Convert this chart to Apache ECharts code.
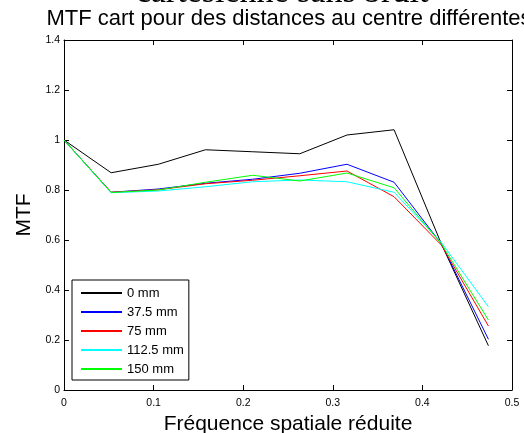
<!DOCTYPE html>
<html>
<head>
<meta charset="utf-8">
<script src="https://cdn.jsdelivr.net/npm/echarts@6/dist/echarts.min.js"></script>
<style>
  html, body { margin: 0; padding: 0; background: #fff; }
  #chart { width: 524px; height: 433px; }
</style>
</head>
<body>
<div id="chart"></div>
<script>
// Reduced spatial frequency samples
const freq = [0, 0.0526, 0.1053, 0.1579, 0.2105, 0.2632, 0.3158, 0.3684, 0.4211, 0.4737];

// MTF per distance to the centre
const mtf0   = [1.0, 0.869, 0.903, 0.961, 0.953, 0.945, 1.020, 1.041, 0.585, 0.177];
const mtf375 = [1.0, 0.791, 0.804, 0.827, 0.843, 0.867, 0.903, 0.831, 0.585, 0.203];
const mtf75  = [1.0, 0.791, 0.801, 0.825, 0.839, 0.857, 0.876, 0.773, 0.580, 0.256];
const mtf1125 = [1.0, 0.789, 0.796, 0.813, 0.833, 0.840, 0.833, 0.791, 0.590, 0.333];
const mtf150 = [1.0, 0.790, 0.800, 0.831, 0.859, 0.836, 0.868, 0.809, 0.585, 0.280];

const seriesNames = ['0 mm', '37.5 mm', '75 mm', '112.5 mm', '150 mm'];
const seriesData = [mtf0, mtf375, mtf75, mtf1125, mtf150];
const seriesColors = ['#000000', '#0000ff', '#ff0000', '#00ffff', '#00ff00'];

const xTicks = [0, 0.1, 0.2, 0.3, 0.4, 0.5];
const yTicks = [0, 0.2, 0.4, 0.6, 0.8, 1, 1.2, 1.4];

const titleLine1 = 'cartesienne sans bruit';
const titleLine2 = 'MTF cart pour des distances au centre différentes';
const xName = 'Fréquence spatiale réduite';
const yName = 'MTF';

const SANS = '"Liberation Sans", Arial, Helvetica, sans-serif';
const SERIF = '"Liberation Serif", "Times New Roman", serif';

const chart = echarts.init(document.getElementById('chart'), null, { renderer: 'canvas' });

const fmt = v => String(Math.round(v * 10) / 10);

const axisCommon = {
  axisLine: { show: true, onZero: false, lineStyle: { color: '#000', width: 1 } },
  axisTick: { show: true, inside: true, length: 5, lineStyle: { color: '#000', width: 1 } },
  splitLine: { show: false }
};

chart.setOption({
  animation: false,
  backgroundColor: '#fff',
  graphic: [
    {
      type: 'text', x: 282, y: -7,
      style: { text: titleLine1, font: '34px ' + SERIF, fill: '#000', align: 'center', verticalAlign: 'middle' }
    },
    {
      type: 'text', x: 289, y: 19,
      style: { text: titleLine2, font: '22px ' + SANS, fill: '#000', align: 'center', verticalAlign: 'middle' }
    }
  ],
  grid: {
    left: 64, right: 12, top: 40, bottom: 43,
    containLabel: false, outerBoundsMode: 'none'
  },
  legend: {
    data: seriesNames,
    orient: 'vertical',
    left: 72, top: 280,
    padding: [6.5, 5, 4.5, 8],
    itemWidth: 41, itemHeight: 14, itemGap: 6,
    itemStyle: { opacity: 0 },
    borderColor: '#000', borderWidth: 1, backgroundColor: '#fff',
    textStyle: { fontFamily: SANS, fontSize: 13, color: '#000' }
  },
  xAxis: [
    Object.assign({}, axisCommon, {
      type: 'value', position: 'bottom', min: 0, max: 0.5, interval: 0.1,
      name: xName, nameLocation: 'middle', nameGap: 19,
      nameTextStyle: { fontFamily: SANS, fontSize: 21, color: '#000' },
      axisLabel: { show: true, margin: 8, fontFamily: SANS, fontSize: 10.5, color: '#000', formatter: fmt,
        customValues: xTicks }
    }),
    Object.assign({}, axisCommon, {
      type: 'value', position: 'top', min: 0, max: 0.5, interval: 0.1,
      axisLabel: { show: false }
    })
  ],
  yAxis: [
    Object.assign({}, axisCommon, {
      type: 'value', position: 'left', min: 0, max: 1.4, interval: 0.2,
      name: yName, nameLocation: 'middle', nameGap: 28, nameRotate: 90,
      nameTextStyle: { fontFamily: SANS, fontSize: 21, color: '#000' },
      axisLabel: { show: true, margin: 4, fontFamily: SANS, fontSize: 10.5, color: '#000', formatter: fmt,
        customValues: yTicks }
    }),
    Object.assign({}, axisCommon, {
      type: 'value', position: 'right', min: 0, max: 1.4, interval: 0.2,
      axisLabel: { show: false }
    })
  ],
  series: seriesNames.map((name, i) => ({
    name: name,
    type: 'line',
    xAxisIndex: 0, yAxisIndex: 0,
    data: freq.map((f, k) => [f, seriesData[i][k]]),
    symbol: 'none', showSymbol: false,
    lineStyle: { color: seriesColors[i], width: 1 },
    itemStyle: { color: seriesColors[i] },
    z: 2 + i
  }))
});
</script>
</body>
</html>
